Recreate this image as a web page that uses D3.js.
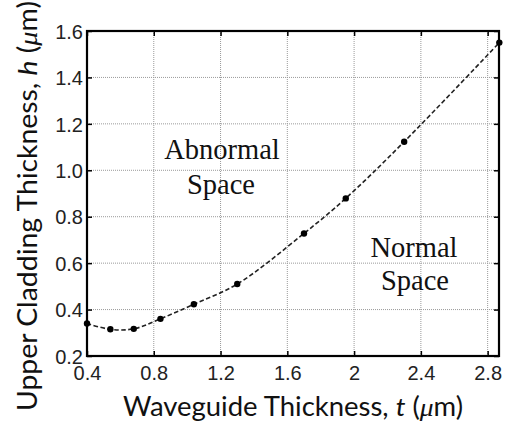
<!DOCTYPE html>
<html>
<head>
<meta charset="utf-8">
<script src="https://cdn.jsdelivr.net/npm/d3@7"></script>
<style>
  html, body { margin: 0; padding: 0; background: #fff; }
  svg { display: block; }
</style>
</head>
<body>
<svg id="chart" width="506" height="427"></svg>
<script>
// ---- data ----
const waveguideT = [0.40, 0.54, 0.68, 0.84, 1.04, 1.30, 1.70, 1.95, 2.30, 2.87];
const claddingH  = [0.340, 0.315, 0.317, 0.360, 0.423, 0.510, 0.728, 0.879, 1.123, 1.550];
const xTicks = [0.4, 0.8, 1.2, 1.6, 2.0, 2.4, 2.8];
const xTickLabels = ["0.4", "0.8", "1.2", "1.6", "2", "2.4", "2.8"];
const yTicks = [0.2, 0.4, 0.6, 0.8, 1.0, 1.2, 1.4, 1.6];
const yTickLabels = ["0.2", "0.4", "0.6", "0.8", "1.0", "1.2", "1.4", "1.6"];

const W = 506, H = 427;
const m = { left: 87, top: 31, right: 7, bottom: 71 };
const iw = W - m.left - m.right, ih = H - m.top - m.bottom;

const svg = d3.select("#chart");
const g = svg.append("g").attr("transform", `translate(${m.left},${m.top})`);

const x = d3.scaleLinear().domain([0.4, 2.868]).range([0, iw]);
const y = d3.scaleLinear().domain([0.2, 1.6]).range([ih, 0]);

// grid
g.append("g").selectAll("line").data(xTicks).join("line")
  .attr("x1", d => x(d)).attr("x2", d => x(d))
  .attr("y1", 0).attr("y2", ih)
  .attr("stroke", "#9a9a9a").attr("stroke-width", 1).attr("stroke-dasharray", "1,1");
g.append("g").selectAll("line").data(yTicks).join("line")
  .attr("x1", 0).attr("x2", iw)
  .attr("y1", d => y(d)).attr("y2", d => y(d))
  .attr("stroke", "#9a9a9a").attr("stroke-width", 1).attr("stroke-dasharray", "1,1");

// axes (ticks inward, mirrored on top/right)
const tickFont = "'Liberation Sans', Arial, sans-serif";
const xAxis = g.append("g").attr("transform", `translate(0,${ih})`)
  .call(d3.axisBottom(x).tickValues(xTicks).tickSizeInner(-5).tickSizeOuter(0)
    .tickPadding(14).tickFormat((d, i) => xTickLabels[i]));
const yAxis = g.append("g")
  .call(d3.axisLeft(y).tickValues(yTicks).tickSizeInner(-5).tickSizeOuter(0)
    .tickPadding(4).tickFormat((d, i) => yTickLabels[i]));
const xTop = g.append("g")
  .call(d3.axisTop(x).tickValues(xTicks).tickSizeInner(-5).tickSizeOuter(0).tickFormat(""));
const yRight = g.append("g").attr("transform", `translate(${iw},0)`)
  .call(d3.axisRight(y).tickValues(yTicks).tickSizeInner(-5).tickSizeOuter(0).tickFormat(""));

[xAxis, yAxis, xTop, yRight].forEach(a => {
  a.select(".domain").remove();
  a.selectAll(".tick line").attr("stroke", "#000").attr("stroke-width", 1.5);
  a.selectAll(".tick text").attr("fill", "#222").style("font-family", tickFont).style("font-size", "20px");
});
xAxis.selectAll(".tick text").attr("dy", "0.71em").attr("y", 10);
yAxis.selectAll(".tick text").attr("dy", "0.36em");

// frame
g.append("rect").attr("x", 0).attr("y", 0).attr("width", iw).attr("height", ih)
  .attr("fill", "none").attr("stroke", "#000").attr("stroke-width", 2.2);

// curve
const pts = waveguideT.map((t, i) => [t, claddingH[i]]);
const line = d3.line().x(d => x(d[0])).y(d => y(d[1])).curve(d3.curveCatmullRom.alpha(0.5));
g.append("path").datum(pts).attr("d", line)
  .attr("fill", "none").attr("stroke", "#222").attr("stroke-width", 1.6)
  .attr("stroke-dasharray", "4.5,2.5");
g.append("g").selectAll("circle").data(pts).join("circle")
  .attr("cx", d => x(d[0])).attr("cy", d => y(d[1])).attr("r", 3.2).attr("fill", "#000");

// annotations
const serif = "'Liberation Serif', 'Times New Roman', serif";
const ann = [
  { text: "Abnormal", px: 222, py: 159 },
  { text: "Space", px: 221, py: 194 },
  { text: "Normal", px: 414, py: 257 },
  { text: "Space", px: 415, py: 290 }
];
svg.append("g").selectAll("text").data(ann).join("text")
  .attr("x", d => d.px).attr("y", d => d.py).attr("text-anchor", "middle")
  .style("font-family", serif).style("font-size", "28.5px").attr("fill", "#111")
  .text(d => d.text);

// axis titles
const titleFont = "Lato, Carlito, Calibri, sans-serif";
const xt = svg.append("text").attr("x", 293).attr("y", 416).attr("text-anchor", "middle")
  .attr("textLength", 340).attr("lengthAdjust", "spacingAndGlyphs")
  .style("font-family", titleFont).style("font-size", "26px").attr("fill", "#111");
xt.append("tspan").text("Waveguide Thickness, ");
xt.append("tspan").style("font-style", "italic").text("t");
xt.append("tspan").text(" (");
xt.append("tspan").style("font-style", "italic").style("font-family", serif).text("μ");
xt.append("tspan").text("m)");

const yt = svg.append("text").attr("transform", "translate(37,206) rotate(-90)").attr("text-anchor", "middle")
  .attr("textLength", 410).attr("lengthAdjust", "spacingAndGlyphs")
  .style("font-family", titleFont).style("font-size", "26px").attr("fill", "#111");
yt.append("tspan").text("Upper Cladding Thickness, ");
yt.append("tspan").style("font-style", "italic").text("h");
yt.append("tspan").text(" (");
yt.append("tspan").style("font-style", "italic").style("font-family", serif).text("μ");
yt.append("tspan").text("m)");
</script>
</body>
</html>
